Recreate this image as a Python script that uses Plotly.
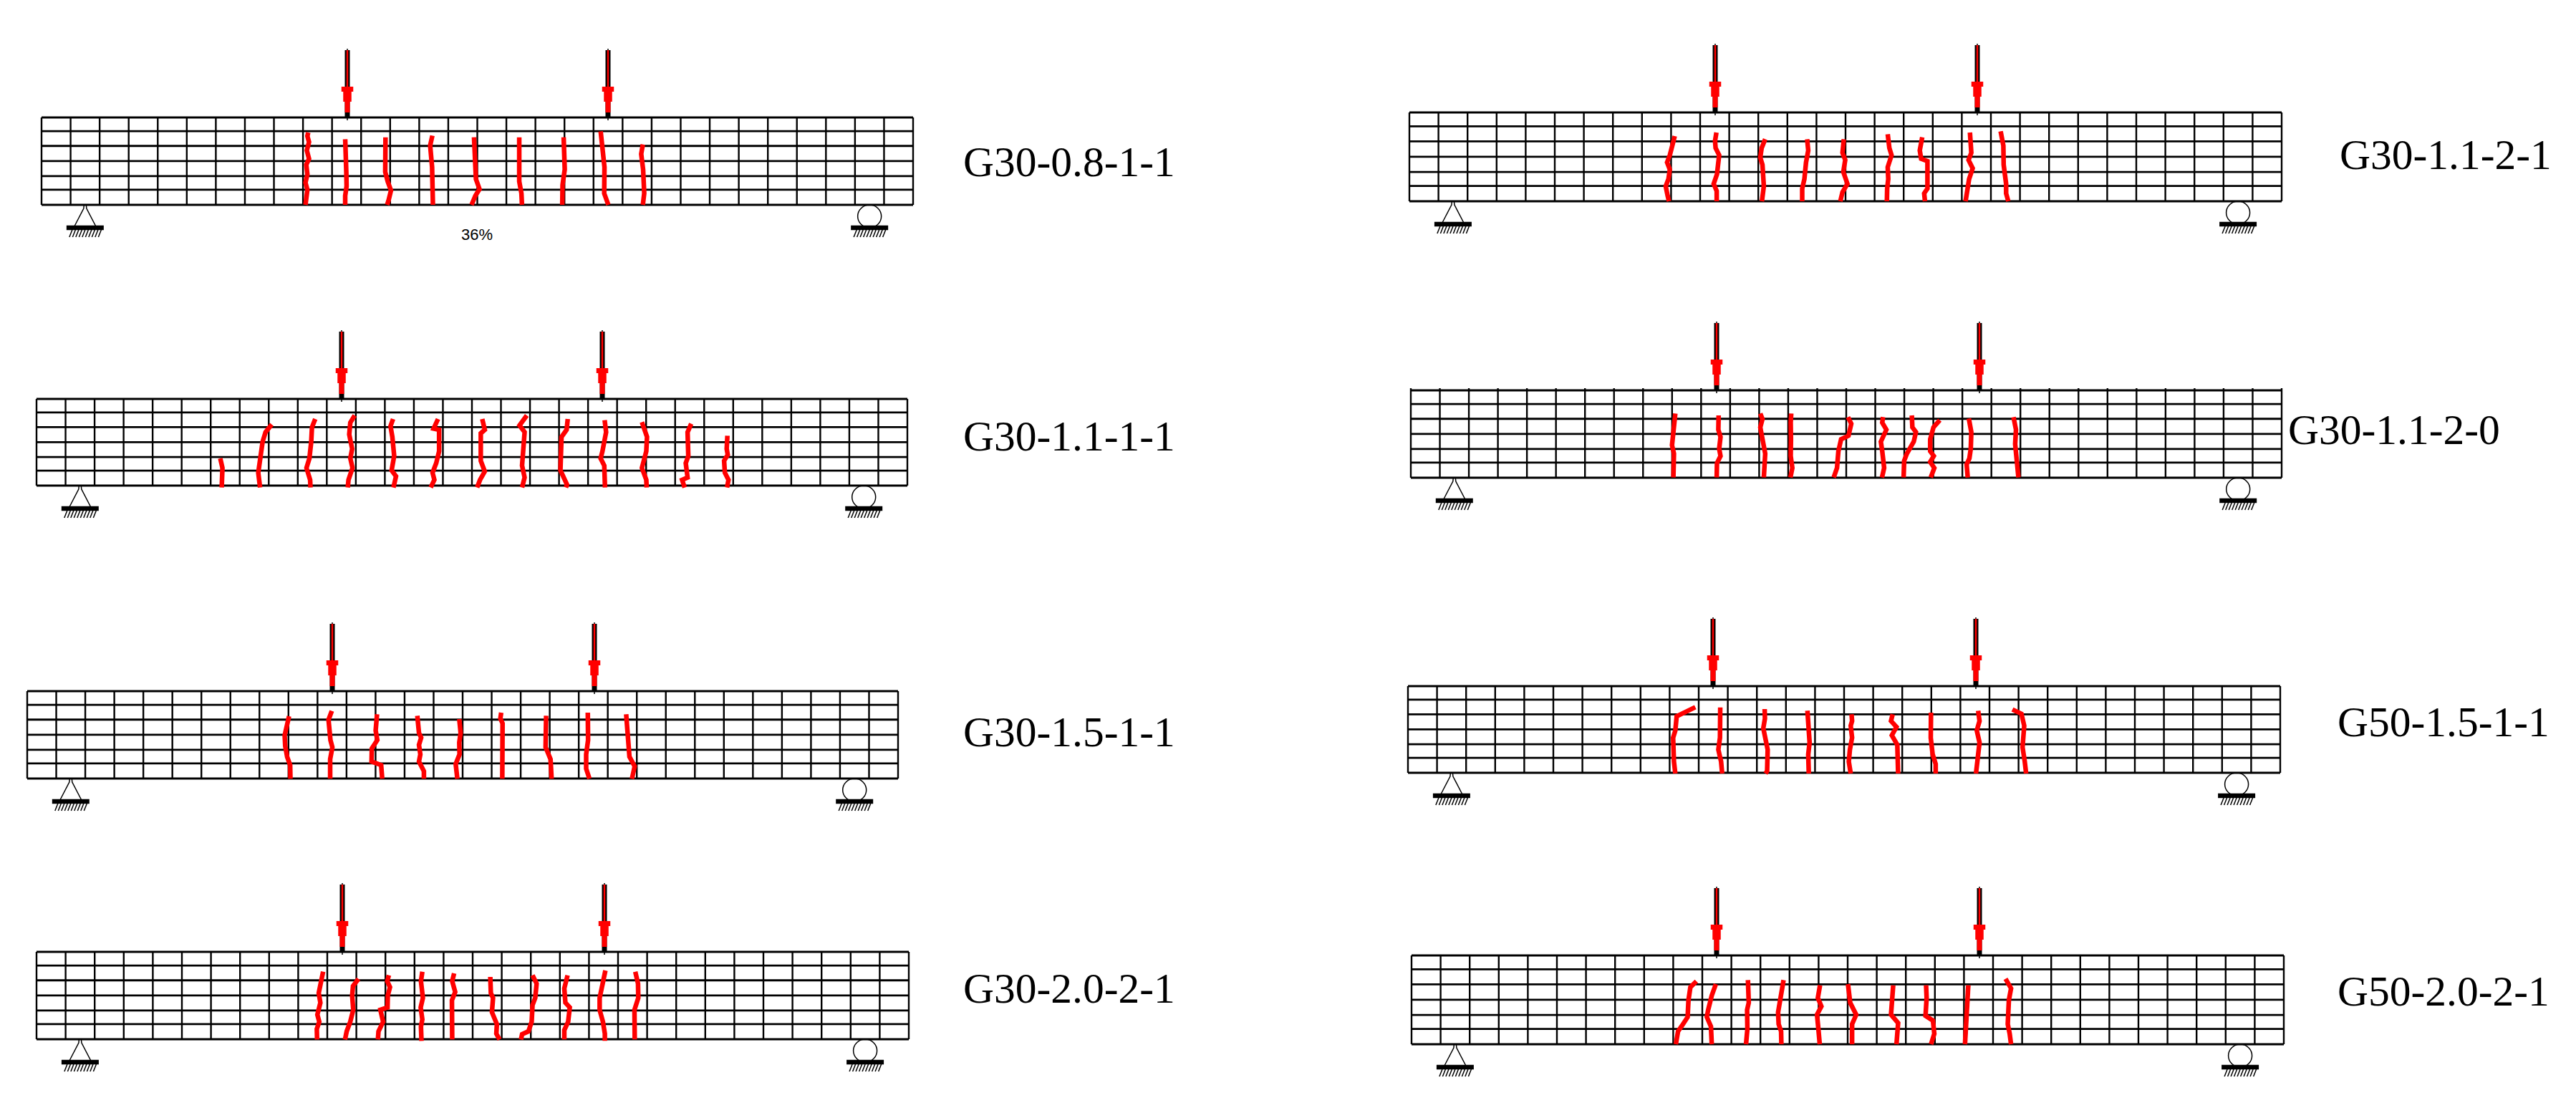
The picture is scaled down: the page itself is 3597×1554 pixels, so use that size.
import plotly.graph_objects as go

# everything in image pixels (y points down)
beam_names = ['G30-0.8-1-1', 'G30-1.1-1-1', 'G30-1.5-1-1', 'G30-2.0-2-1',
              'G30-1.1-2-1', 'G30-1.1-2-0', 'G50-1.5-1-1', 'G50-2.0-2-1']
beam_left = [58, 51, 38, 51, 1968, 1970, 1966, 1971]
beam_right = [1275, 1267, 1254, 1269, 3186, 3186, 3184, 3189]
beam_top = [164, 557, 965, 1329, 157, 545, 958, 1334]
beam_bottom = [286, 678, 1087, 1451, 281, 667, 1079, 1458]
load_a = [485, 477, 464, 478, 2395, 2397, 2392, 2397]
load_b = [849, 841, 830, 844, 2761, 2764, 2759, 2764]
label_x = [1343, 1343, 1343, 1343, 3265, 3193, 3262, 3262]
label_y = [226, 609, 1022, 1380, 216, 600, 1008, 1384]

# grid of every beam
n_cells = 30
layer_fracs = [0, 0.156, 0.326, 0.499, 0.671, 0.827, 1]

crop_x = [350, 280, 360, 380, 2280, 2280, 2280, 2280]
crop_y = [40, 440, 860, 1230, 50, 440, 850, 1230]
crop_sx = [2.613, 1.96, 2.613, 2.613, 2.613, 2.613, 2.613, 2.613]
crop_sy = 3

cracks_1 = [
    [(210,435),(207,450),(213,475),(205,510),(213,545),(203,570),(207,610),(200,645),(207,675),(200,738)],
    [(345,463),(347,500),(349,600),(350,660),(345,700),(345,738)],
    [(492,455),(493,520),(491,600),(500,640),(512,678),(503,720),(498,738)],
    [(663,448),(655,490),(662,580),(665,738)],
    [(815,455),(818,530),(822,630),(835,672),(820,700),(806,738)],
    [(980,455),(980,530),(980,640),(988,690),(990,738)],
    [(1142,455),(1146,590),(1138,655),(1137,738)],
    [(1277,430),(1285,500),(1291,580),(1290,690),(1305,738)],
    [(1431,485),(1425,525),(1432,590),(1436,690),(1431,738)],
]
cracks_2 = [
    [(54,600),(60,640),(58,722)],
    [(195,458),(178,490),(170,530),(165,600),(158,660),(163,722)],
    [(314,435),(305,470),(303,530),(298,600),(290,640),(300,690),(301,722)],
    [(422,420),(410,450),(407,500),(415,560),(410,600),(416,640),(405,690),(403,722)],
    [(527,435),(520,465),(525,510),(530,590),(523,650),(535,675),(528,722)],
    [(650,435),(638,475),(653,480),(653,570),(645,620),(635,660),(640,690),(630,722)],
    [(771,435),(778,480),(767,495),(767,610),(778,655),(765,690),(757,722)],
    [(893,420),(873,462),(887,490),(885,560),(880,630),(887,680),(880,722)],
    [(1005,435),(1002,480),(988,510),(985,650),(1003,710),(1000,722)],
    [(1106,440),(1110,490),(1100,570),(1095,600),(1105,630),(1107,722)],
    [(1208,448),(1222,510),(1220,570),(1208,640),(1220,690),(1221,722)],
    [(1343,455),(1333,490),(1335,590),(1328,620),(1333,680),(1318,690),(1325,722)],
    [(1442,505),(1440,560),(1443,585),(1433,610),(1435,660),(1445,690),(1441,722)],
]
cracks_3 = [
    [(114,420),(105,460),(98,500),(100,545),(107,590),(118,625),(119,682)],
    [(270,398),(258,435),(265,520),(272,550),(264,600),(264,682)],
    [(435,412),(430,480),(436,520),(416,555),(415,610),(450,625),(454,682)],
    [(582,418),(588,490),(596,510),(588,540),(593,580),(588,610),(606,650),(606,682)],
    [(735,432),(740,490),(735,530),(736,580),(722,620),(728,682)],
    [(888,405),(885,430),(893,450),(892,682)],
    [(1052,418),(1052,510),(1050,550),(1068,600),(1072,682)],
    [(1204,405),(1205,520),(1198,580),(1198,640),(1210,682)],
    [(1344,412),(1350,490),(1356,590),(1375,630),(1365,682)],
]
cracks_4 = [
    [(186,380),(178,430),(170,470),(176,510),(165,560),(172,590),(163,620),(164,664)],
    [(315,410),(295,440),(292,480),(296,540),(285,590),(272,630),(266,664)],
    [(426,395),(420,420),(430,445),(422,480),(421,530),(395,540),(405,590),(388,630),(386,664)],
    [(548,380),(543,420),(550,490),(542,530),(548,580),(543,610),(545,670)],
    [(664,387),(657,420),(668,465),(656,500),(657,664)],
    [(796,402),(798,470),(806,490),(802,550),(820,600),(818,640),(830,664)],
    [(950,395),(965,430),(960,490),(950,520),(947,590),(935,630),(912,642),(908,664)],
    [(1078,395),(1066,450),(1070,510),(1086,530),(1080,590),(1066,625),(1066,664)],
    [(1216,375),(1207,420),(1195,490),(1195,540),(1207,590),(1214,640),(1214,670)],
    [(1325,380),(1335,430),(1336,490),(1322,540),(1323,664)],
]
cracks_5 = [
    [(153,420),(145,460),(135,500),(125,530),(135,560),(130,600),(120,630),(127,670),(132,693)],
    [(305,405),(300,440),(302,470),(315,500),(307,580),(295,620),(306,650),(306,693)],
    [(483,433),(470,470),(465,510),(473,540),(478,630),(471,693)],
    [(636,433),(640,480),(632,530),(626,600),(618,640),(618,693)],
    [(770,433),(765,490),(775,520),(768,570),(783,620),(765,655),(757,693)],
    [(930,412),(936,470),(944,500),(930,550),(932,600),(928,640),(927,693)],
    [(1056,425),(1047,480),(1052,515),(1075,525),(1075,600),(1075,640),(1063,660),(1066,693)],
    [(1230,405),(1235,490),(1225,520),(1240,555),(1227,600),(1220,650),(1214,693)],
    [(1342,400),(1352,460),(1353,540),(1362,620),(1362,660),(1370,693)],
]
cracks_6 = [
    [(155,412),(148,480),(143,545),(150,580),(148,680)],
    [(313,420),(312,480),(320,510),(315,560),(320,590),(307,620),(306,680)],
    [(465,412),(473,435),(465,470),(475,530),(483,580),(478,680)],
    [(578,412),(576,450),(577,520),(576,590),(582,640),(575,680)],
    [(785,427),(797,455),(787,505),(760,520),(750,570),(745,640),(733,680)],
    [(913,427),(910,450),(925,480),(905,530),(910,570),(917,640),(909,680)],
    [(1018,420),(1020,470),(1033,490),(1025,530),(1000,580),(990,610),(988,680)],
    [(1120,440),(1097,470),(1085,520),(1085,570),(1098,590),(1085,615),(1100,640),(1087,680)],
    [(1226,433),(1235,490),(1233,560),(1228,600),(1218,625),(1222,680)],
    [(1389,427),(1398,480),(1395,540),(1400,620),(1407,680)],
]
cracks_7 = [
    [(228,412),(195,428),(160,450),(155,510),(147,540),(150,640),(155,690)],
    [(319,413),(320,490),(318,540),(312,590),(322,640),(326,690)],
    [(481,420),(482,460),(476,500),(485,560),(492,590),(490,680),(484,690)],
    [(637,427),(640,480),(645,560),(640,610),(642,690)],
    [(798,442),(800,470),(795,490),(800,540),(792,590),(788,640),(795,690)],
    [(948,442),(942,470),(962,495),(945,530),(965,570),(965,620),(968,690)],
    [(1088,435),(1087,540),(1094,610),(1105,650),(1105,690)],
    [(1260,427),(1265,470),(1255,510),(1265,560),(1257,640),(1252,690)],
    [(1385,422),(1418,440),(1428,490),(1422,580),(1430,640),(1435,690)],
]
cracks_8 = [
    [(232,420),(210,445),(203,500),(200,570),(180,605),(165,630),(157,684)],
    [(303,432),(288,480),(275,540),(270,570),(285,610),(288,684)],
    [(420,415),(423,510),(417,540),(418,620),(413,684)],
    [(550,415),(540,480),(530,550),(532,600),(541,630),(542,684)],
    [(683,437),(675,490),(688,525),(672,560),(677,620),(682,684)],
    [(785,432),(793,510),(815,560),(800,600),(800,684)],
    [(950,437),(945,530),(942,560),(968,595),(962,684)],
    [(1070,437),(1072,490),(1068,565),(1095,585),(1100,640),(1088,684)],
    [(1224,437),(1220,540),(1215,640),(1212,684)],
    [(1360,410),(1380,450),(1372,500),(1368,600),(1375,640),(1380,684)],
]
all_cracks = [cracks_1, cracks_2, cracks_3, cracks_4, cracks_5, cracks_6, cracks_7, cracks_8]

fig = go.Figure()
shapes = []


def add_lines(segments, color, width):
    # one trace per style, segments split by None
    xs, ys = [], []
    for seg in segments:
        for p in seg:
            xs.append(p[0])
            ys.append(p[1])
        xs.append(None)
        ys.append(None)
    fig.add_trace(go.Scatter(x=xs, y=ys, mode='lines', line=dict(color=color, width=width),
                             hoverinfo='skip', showlegend=False))


grid_h, grid_v, thin, crack_segs = [], [], [], []
ground, shaft, core, tips = [], [], [], []
head_1, head_2, head_3 = [], [], []

for i in range(len(beam_names)):
    l, r, t, b = beam_left[i], beam_right[i], beam_top[i], beam_bottom[i]
    for f in layer_fracs:
        y = t + f * (b - t)
        grid_h.append([(l, y), (r, y)])
    over = 3 if i == 5 else 0
    for k in range(n_cells + 1):
        x = l + k * (r - l) / n_cells
        grid_v.append([(x, t - over), (x, b)])

    for c in all_cracks[i]:
        crack_segs.append([(crop_x[i] + p[0] / crop_sx[i], crop_y[i] + p[1] / crop_sy) for p in c])

    for x in (load_a[i], load_b[i]):
        tips.append([(x, t - 96), (x, t + 4)])
        shaft.append([(x, t - 94), (x, t + 1)])
        core.append([(x, t - 94), (x, t - 7)])
        head_1.append([(x, t - 43), (x, t - 36)])
        head_2.append([(x, t - 36), (x, t - 22)])
        head_3.append([(x, t - 22), (x, t - 7)])

    # supports, one and a half cells in from each end
    pin = l + 1.5 * (r - l) / n_cells
    roller = r - 1.5 * (r - l) / n_cells
    g = b + 32
    thin.append([(pin - 1.5, b), (pin - 2, b + 5), (pin - 16, g)])
    thin.append([(pin + 1.5, b), (pin + 2, b + 5), (pin + 16, g)])
    shapes.append(dict(type='circle', xref='x', yref='y', x0=roller - 16.5, x1=roller + 16.5,
                       y0=b, y1=g, line=dict(color='black', width=1.5)))
    for x in (pin, roller):
        ground.append([(x - 26, g), (x + 26, g)])
        for k in range(10):
            hx = x - 20 + k * 4.5
            thin.append([(hx + 2, g + 3), (hx - 2, g + 13)])

add_lines(grid_v, 'black', 2.4)
add_lines(grid_h, 'black', 2.8)
add_lines(thin, 'black', 1.5)
add_lines(ground, 'black', 6.5)
add_lines(tips, 'black', 1.5)
add_lines(shaft, 'black', 7)
add_lines(core, '#ff0000', 2.5)
add_lines(head_1, '#ff0000', 16.5)
add_lines(head_2, '#ff0000', 11.5)
add_lines(head_3, '#ff0000', 7)
add_lines(crack_segs, '#ff0000', 6.5)

annos = []
for i in range(len(beam_names)):
    annos.append(dict(x=label_x[i], y=label_y[i], text=beam_names[i], showarrow=False,
                      xanchor='left', yanchor='middle', xref='x', yref='y',
                      font=dict(family='Liberation Serif', size=59.5, color='black')))
annos.append(dict(x=666, y=327, text='36%', showarrow=False, xanchor='center', yanchor='middle',
                  xref='x', yref='y', font=dict(family='Liberation Sans', size=22, color='black')))

# the page keeps an 8px body margin, so the ranges start at 8 to land on image pixels
fig.update_layout(
    width=3597, height=1554,
    margin=dict(l=0, r=0, t=0, b=0),
    paper_bgcolor='white', plot_bgcolor='white',
    xaxis=dict(range=[8, 3605], visible=False, fixedrange=True),
    yaxis=dict(range=[1562, 8], visible=False, fixedrange=True),
    shapes=shapes, annotations=annos,
    showlegend=False,
)

fig.write_html("out.html")
